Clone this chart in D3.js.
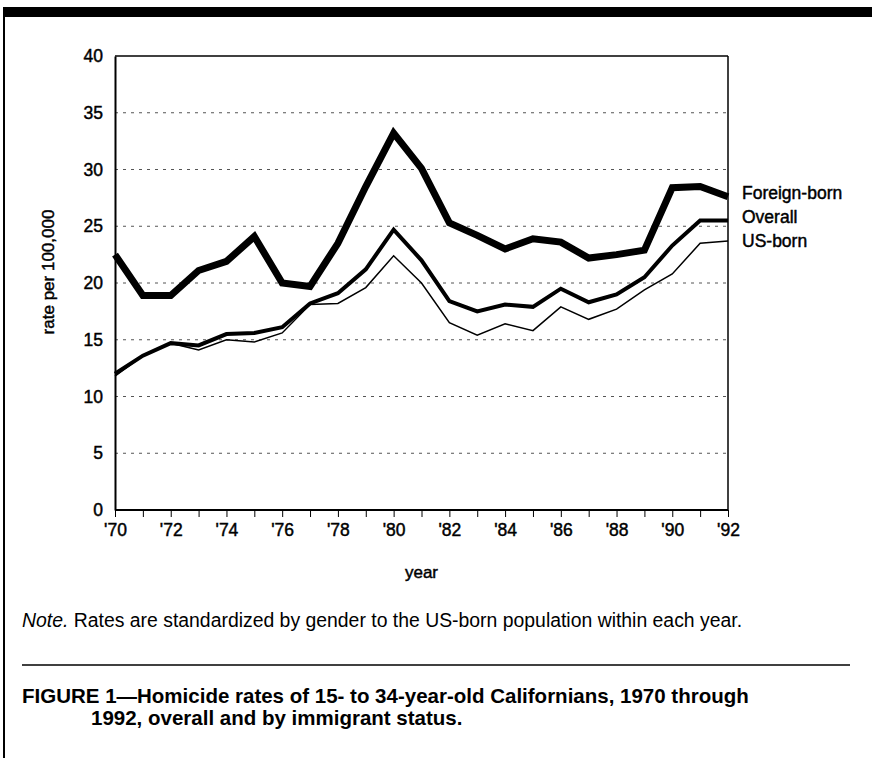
<!DOCTYPE html>
<html>
<head>
<meta charset="utf-8">
<script src="https://cdn.jsdelivr.net/npm/d3@7"></script>
<style>
  html, body { margin: 0; padding: 0; background: #fff; }
  svg { display: block; font-family: "Liberation Sans", Arial, Helvetica, sans-serif; }
  .heavy { stroke: #000; stroke-width: 0.45px; }
</style>
</head>
<body>
<svg id="chart" width="872" height="758"></svg>
<script>
// Homicide rates per 100,000, Californians aged 15-34, 1970-1992
const years = d3.range(1970, 1993);
const foreignBorn = [22.5, 18.9, 18.9, 21.1, 21.9, 24.1, 20.0, 19.7, 23.5, 28.5, 33.2, 30.1,
                     25.3, 24.2, 23.0, 23.9, 23.6, 22.2, 22.5, 22.9, 28.4, 28.5, 27.6];
const overall     = [12.0, 13.6, 14.7, 14.5, 15.5, 15.6, 16.1, 18.2, 19.1, 21.2, 24.7, 22.0,
                     18.4, 17.5, 18.1, 17.9, 19.5, 18.3, 19.0, 20.5, 23.3, 25.5, 25.5];
const usBorn      = [11.8, 13.6, 14.7, 14.1, 15.0, 14.8, 15.6, 18.1, 18.2, 19.6, 22.4, 20.0,
                     16.5, 15.4, 16.4, 15.8, 17.9, 16.8, 17.7, 19.4, 20.8, 23.5, 23.7];
const yTicks = [0, 5, 10, 15, 20, 25, 30, 35, 40];
const seriesNames = ["Foreign-born", "Overall", "US-born"];

const FONT = "'Liberation Sans', Arial, Helvetica, sans-serif";
const svg = d3.select("#chart");

// page furniture: heavy top rule and left border
svg.append("rect").attr("x", 3).attr("y", 7).attr("width", 869).attr("height", 10).attr("fill", "#000");
svg.append("line").attr("x1", 4).attr("x2", 4).attr("y1", 7).attr("y2", 758)
  .attr("stroke", "#000").attr("stroke-width", 2);

const plot = { left: 115, right: 728, top: 56, bottom: 510 };

const x = d3.scaleLinear().domain([1970, 1992]).range([plot.left, plot.right]);
const y = d3.scaleLinear().domain([0, 40]).range([plot.bottom, plot.top]);

// dotted horizontal gridlines
svg.append("g")
  .selectAll("line")
  .data(yTicks.filter(t => t > 0 && t < 40))
  .join("line")
  .attr("x1", plot.left).attr("x2", plot.right)
  .attr("y1", d => y(d)).attr("y2", d => y(d))
  .attr("stroke", "#555").attr("stroke-width", 1)
  .attr("stroke-dasharray", "3,5");

// plot frame
svg.append("line").attr("x1", plot.left).attr("x2", plot.right).attr("y1", plot.top).attr("y2", plot.top)
  .attr("stroke", "#000").attr("stroke-width", 1.5);
svg.append("line").attr("x1", plot.right).attr("x2", plot.right).attr("y1", plot.top).attr("y2", plot.bottom)
  .attr("stroke", "#000").attr("stroke-width", 1.5);

// y axis
const yAxis = svg.append("g")
  .attr("transform", `translate(${plot.left},0)`)
  .call(d3.axisLeft(y).tickValues(yTicks).tickSize(0).tickPadding(12));
yAxis.attr("font-size", null).attr("font-family", null);
yAxis.select(".domain").attr("stroke", "#000").attr("stroke-width", 2);
yAxis.selectAll("text").classed("heavy", true)
  .style("font-size", "17.5px").attr("fill", "#000").style("font-family", FONT);

// x axis
const xAxis = svg.append("g")
  .attr("transform", `translate(0,${plot.bottom})`)
  .call(d3.axisBottom(x).tickValues(years).tickSize(7).tickPadding(7)
    .tickFormat(d => d % 2 === 0 ? "'" + String(d).slice(2) : ""));
xAxis.attr("font-size", null).attr("font-family", null);
xAxis.select(".domain").attr("stroke", "#000").attr("stroke-width", 2)
  .attr("d", `M${plot.left},0H${plot.right}`);
xAxis.selectAll(".tick line").attr("stroke", "#000").attr("stroke-width", 1);
xAxis.selectAll("text").classed("heavy", true)
  .style("font-size", "17.5px").attr("fill", "#000").style("font-family", FONT);

// axis titles
svg.append("text").attr("class", "heavy").attr("x", (plot.left + plot.right) / 2).attr("y", 578)
  .attr("text-anchor", "middle").style("font-size", "17px").text("year");
svg.append("text").attr("class", "heavy")
  .attr("transform", "translate(54,272) rotate(-90)")
  .attr("text-anchor", "middle").style("font-size", "17px").text("rate per 100,000");

// series lines
const line = d3.line().x((d, i) => x(years[i])).y(d => y(d)).curve(d3.curveLinear);
const series = [
  { name: seriesNames[0], values: foreignBorn, width: 7 },
  { name: seriesNames[1], values: overall, width: 4 },
  { name: seriesNames[2], values: usBorn, width: 1.5 }
];
svg.append("g")
  .selectAll("path")
  .data(series.slice().reverse())
  .join("path")
  .attr("d", d => line(d.values))
  .attr("fill", "none")
  .attr("stroke", "#000")
  .attr("stroke-width", d => d.width)
  .attr("stroke-linejoin", "miter")
  .attr("stroke-miterlimit", 3);

// direct labels at the right end
const labelY = [199, 223, 247];
svg.append("g")
  .selectAll("text")
  .data(series)
  .join("text")
  .attr("class", "heavy")
  .attr("x", 742)
  .attr("y", (d, i) => labelY[i])
  .style("font-size", "17.5px")
  .text(d => d.name);

// note
const note = svg.append("text").attr("x", 22).attr("y", 627).style("font-size", "19.4px");
note.append("tspan").attr("font-style", "italic").text("Note.");
note.append("tspan").text(" Rates are standardized by gender to the US-born population within each year.");

// separator rule
svg.append("line").attr("x1", 22).attr("x2", 850).attr("y1", 665).attr("y2", 665)
  .attr("stroke", "#000").attr("stroke-width", 1.5);

// figure caption
svg.append("text").attr("x", 22).attr("y", 703).style("font-size", "20.5px").attr("font-weight", "bold")
  .text("FIGURE 1\u2014Homicide rates of 15- to 34-year-old Californians, 1970 through");
svg.append("text").attr("x", 91).attr("y", 725).style("font-size", "20.5px").attr("font-weight", "bold")
  .text("1992, overall and by immigrant status.");
</script>
</body>
</html>
